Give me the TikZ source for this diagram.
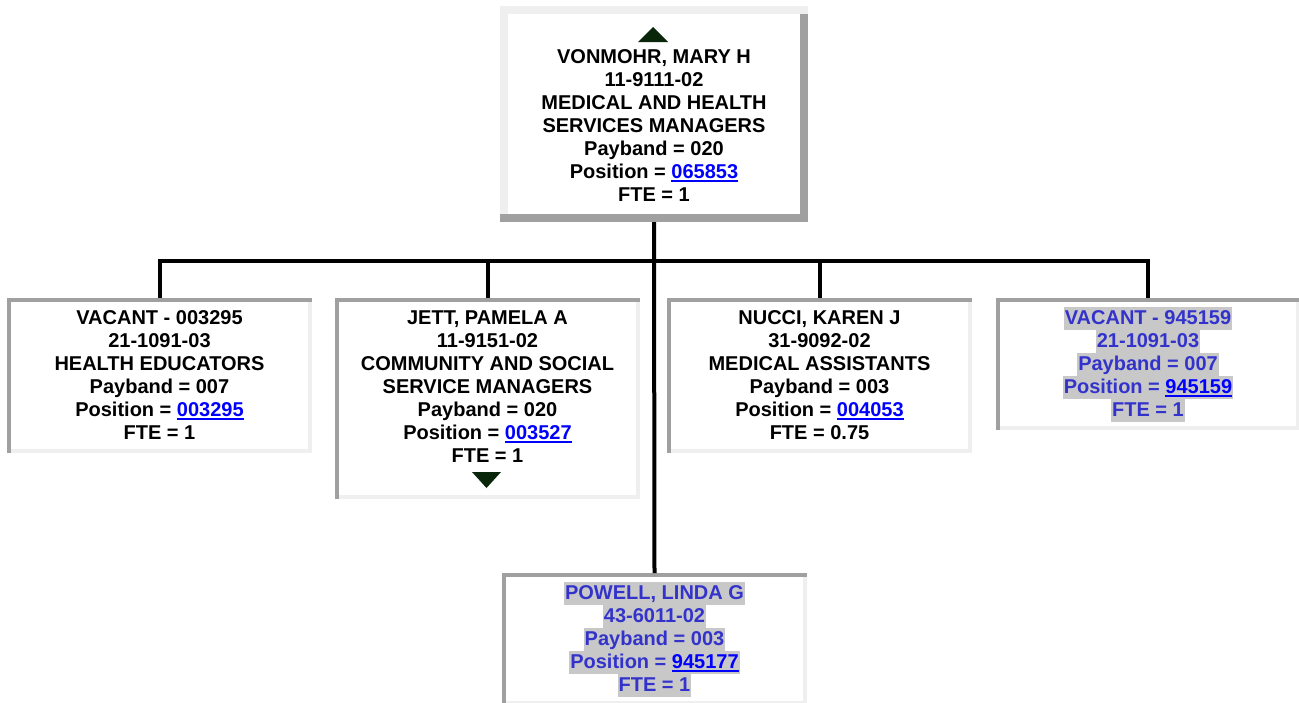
\documentclass[tikz,border=0pt]{standalone}
\usepackage{fontspec}
\setmainfont{Liberation Sans}
\usepackage{xcolor}
\usepackage{tikz}

\definecolor{rimdark}{RGB}{160,160,160}
\definecolor{rimlight}{RGB}{239,239,239}
\definecolor{linkblue}{RGB}{0,0,255}
\definecolor{vacblue}{RGB}{51,51,204}
\definecolor{vacgray}{RGB}{200,200,200}
\definecolor{arrowgreen}{RGB}{10,38,10}

% underlined position number
\newcommand{\poslink}[1]{{\color{linkblue}\setbox0=\hbox{#1}\rlap{\rule[-3.5pt]{\wd0}{2pt}}\box0}}
% grey band behind a line of a vacant/pending entry
\newcommand{\vacline}[1]{{\setlength{\fboxsep}{0pt}\colorbox{vacgray}{\kern1pt\rule[-5pt]{0pt}{23pt}#1\kern1pt}}}

% sunken frame: dark top/left, light bottom/right
\newcommand{\rimin}[1]{%
  \fill[rimdark] (#1.north west) rectangle ([yshift=-4pt]#1.north east);
  \fill[rimdark] (#1.north west) rectangle ([xshift=4pt]#1.south west);
  \fill[rimlight] ([yshift=-4pt]#1.north east) rectangle ([xshift=-4pt]#1.south east);
  \fill[rimlight] ([xshift=4pt]#1.south west) rectangle ([yshift=4pt]#1.south east);}
% raised frame: light top/left, dark bottom/right
\newcommand{\rimout}[1]{%
  \fill[rimlight] (#1.north west) rectangle ([yshift=-8pt]#1.north east);
  \fill[rimlight] (#1.north west) rectangle ([xshift=8pt]#1.south west);
  \fill[rimdark] ([yshift=-8pt]#1.north east) rectangle ([xshift=-8pt]#1.south east);
  \fill[rimdark] (#1.south west) rectangle ([yshift=8pt]#1.south east);}

\begin{document}
\begin{tikzpicture}[x=1pt, y=-1pt,
    card/.style={fill=white, inner sep=0pt, outer sep=0pt, align=center,
      font={\fontsize{20}{23}\selectfont\bfseries}},
    vacant/.style={card, text=vacblue},
    wire/.style={black, line width=4pt}]
    % page area (pixel grid, y downwards)
    \useasboundingbox (0,0) rectangle (1299,702);
    \clip (0,0) rectangle (1299,702);

    % Manager
    \node[card, minimum width=308pt, minimum height=216pt] (vonmohr) at (654,114)
      {\rule{0pt}{14pt}\\VONMOHR, MARY H\\11-9111-02\\MEDICAL AND HEALTH\\SERVICES MANAGERS\\Payband = 020\\Position = \poslink{065853}\\FTE = 1};

    % Direct reports
    \node[card, minimum width=305pt, minimum height=155pt] (vacant3295) at (159.5,375.5)
      {VACANT - 003295\\21-1091-03\\HEALTH EDUCATORS\\Payband = 007\\Position = \poslink{003295}\\FTE = 1};
    \node[card, minimum width=305pt, minimum height=201pt] (jett) at (487.5,398.5)
      {JETT, PAMELA A\\11-9151-02\\COMMUNITY AND SOCIAL\\SERVICE MANAGERS\\Payband = 020\\Position = \poslink{003527}\\FTE = 1\\\rule{0pt}{14pt}};
    \node[card, minimum width=305pt, minimum height=155pt] (nucci) at (819.5,375.5)
      {NUCCI, KAREN J\\31-9092-02\\MEDICAL ASSISTANTS\\Payband = 003\\Position = \poslink{004053}\\FTE = 0.75};
    \node[vacant, minimum width=304pt, minimum height=132pt] (vacant945159) at (1148,364)
      {\vacline{VACANT - 945159}\\\vacline{21-1091-03}\\\vacline{Payband = 007}\\\vacline{Position = \poslink{945159}}\\\vacline{FTE = 1}};
    \node[vacant, minimum width=305pt, minimum height=132pt] (powell) at (654.5,639)
      {\vacline{POWELL, LINDA G}\\\vacline{43-6011-02}\\\vacline{Payband = 003}\\\vacline{Position = \poslink{945177}}\\\vacline{FTE = 1}};

    % Frames
    \rimout{vonmohr}
    \rimin{vacant3295}
    \rimin{jett}
    \rimin{nucci}
    \rimin{vacant945159}
    \rimin{powell}

    % Up / down markers
    \fill[arrowgreen] (638,42) -- (668,42) -- (653,27) -- cycle;
    \fill[arrowgreen] (472,472) -- (501,472) -- (486.5,488) -- cycle;

    % Reporting lines
    \coordinate (hub) at (654,261);
    \draw[wire] (vonmohr.south) -- (powell.north);
    \draw[wire] (vacant3295.north) |- (hub) -| (vacant945159.north);
    \draw[wire] (jett.north) |- (hub) -| (nucci.north);
\end{tikzpicture}
\end{document}
